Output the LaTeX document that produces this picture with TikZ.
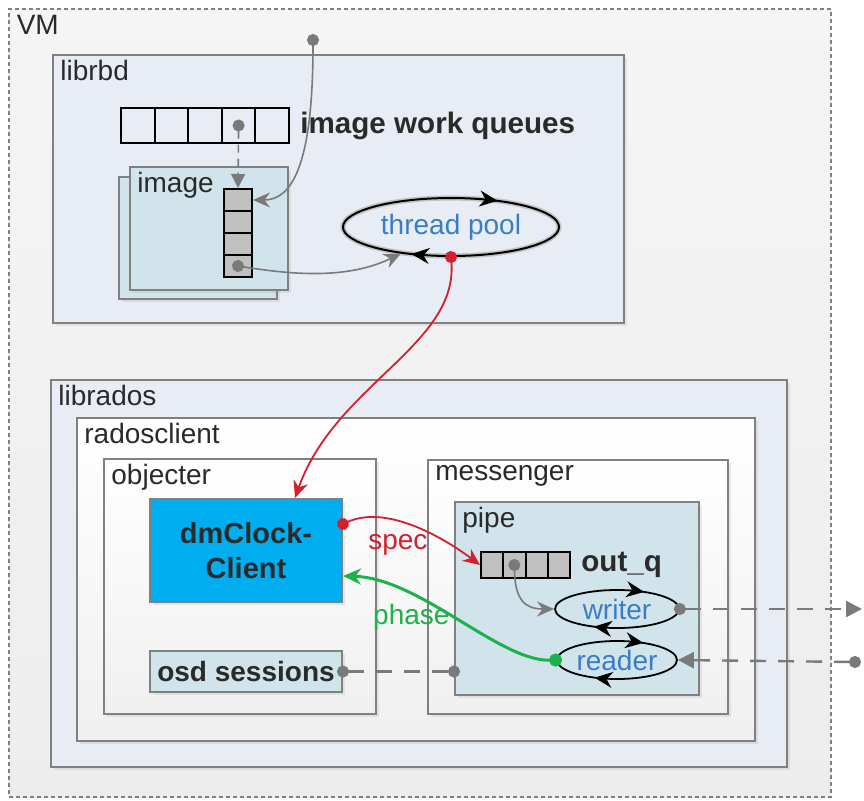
\documentclass[tikz,border=0pt]{standalone}
\usepackage{fontspec}
\setmainfont{Liberation Sans}
\usetikzlibrary{shapes.geometric, arrows.meta, positioning, calc, fit, shadows, decorations.markings}
\definecolor{libblue}{HTML}{E8ECF4}
\definecolor{paleteal}{HTML}{D1E3EB}
\definecolor{dmblue}{HTML}{00AEEF}
\definecolor{cellgray}{HTML}{C0C0C0}
\definecolor{framegray}{HTML}{808080}
\definecolor{linkgray}{HTML}{7A7A7A}
\definecolor{textblue}{HTML}{3B7DC4}
\definecolor{specred}{HTML}{D2202F}
\definecolor{phasegreen}{HTML}{1DB14B}
\definecolor{inktext}{HTML}{2A2A2A}

\begin{document}
\begin{tikzpicture}[
    x=0.5pt, y=-0.5pt,
    font=\fontsize{14}{16}\selectfont,
    frame/.style={draw=framegray, line width=1pt, inner sep=0pt},
    boxed/.style={frame, drop shadow={opacity=0.15, shadow xshift=1.5pt, shadow yshift=-1.5pt}},
    pale/.style={top color=white, bottom color=black!6},
    title/.style={anchor=north west, inner xsep=4pt, inner ysep=3pt, text=inktext},
    qcell/.style={draw=black, line width=1pt, inner sep=0pt},
    tag/.style={font=\fontsize{14.8}{16}\selectfont\bfseries, text=inktext, inner sep=0pt},
    spin/.style={ellipse, draw=black, line width=0.9pt, inner sep=0pt, text=textblue,
        postaction={decorate, decoration={markings,
            mark=at position 0.15 with {\arrowreversed{Stealth[length=9pt,width=8pt]}},
            mark=at position 0.665 with {\arrowreversed{Stealth[length=9pt,width=8pt]}}}}},
    pool/.style={spin, line width=1pt, preaction={draw=linkgray!45, line width=2.6pt}},
    link/.style={draw=linkgray, line width=0.8pt, shorten <=-3pt,
                 {Circle[length=6pt]}-{Stealth[length=8.5pt,width=7.5pt]}},
    drop/.style={link, dash pattern=on 4pt off 3pt,
                 {Circle[length=6pt]}-{Triangle[length=7pt,width=7pt]}},
    hot/.style={link, draw=specred, line width=0.9pt},
    cool/.style={link, draw=phasegreen, line width=1.5pt,
                 {Circle[length=6.5pt]}-{Stealth[length=9pt,width=8pt]}},
    wire/.style={draw=linkgray, line width=1.2pt, dash pattern=on 8pt off 6pt,
                 shorten <=-3pt, shorten >=-3pt,
                 {Circle[length=6pt]}-{Circle[length=6pt]}},
    feed/.style={wire, shorten >=0pt, {Circle[length=6pt]}-{Triangle[length=8pt,width=8pt]}},
    note/.style={inner sep=1pt}
]
\useasboundingbox (0,0) rectangle (864,800);

% VM and librbd
\node[frame, draw=framegray, line width=0.6pt, dash pattern=on 2pt off 1.5pt,
      top color=white!96!black, bottom color=black!7, fit={(9,9) (831,797)}] (vm) {};
\node[title] (vmlab) at (vm.north west) {VM};
\node[boxed, fill=libblue, fit={(53,55) (624,323)}] (librbd) {};
\node[title] (librbdlab) at (librbd.north west) {librbd};

\foreach \i in {1,...,5}
  \node[qcell, minimum width=16.8pt, minimum height=17.5pt] (wq\i) at ({121+33.6*(\i-0.5)},125.5) {};
\node[tag, right=5pt of wq5] (wqlab) {image work queues};

\node[boxed, fill=paleteal, fit={(119,177) (277,299)}] (imgback) {};
\node[boxed, fill=paleteal, fit={(130,167) (288,290)}] (img) {};
\node[title] (imglab) at (img.north west) {image};
\foreach \i in {1,...,4}
  \node[qcell, fill=cellgray, minimum width=14pt, minimum height=11pt] (vq\i) at (238,{189+22*(\i-0.5)}) {};

\node[pool, minimum width=108pt, minimum height=29pt] (pool) at (451,227) {thread pool};

% librados
\node[boxed, fill=libblue, fit={(51,380) (787,767)}] (librados) {};
\node[title] (libradoslab) at (librados.north west) {librados};
\node[boxed, pale, fit={(77,418) (755,741)}] (rados) {};
\node[title] (radoslab) at (rados.north west) {radosclient};
\node[boxed, pale, fit={(104,459) (376,714)}] (objecter) {};
\node[title] (objecterlab) at (objecter.north west) {objecter};
\node[boxed, pale, fit={(428,460) (728,714)}] (messenger) {};
\node[title] (messengerlab) at (messenger.north west) {messenger};
\node[boxed, fill=paleteal, fit={(455,502) (699,695)}] (pipe) {};
\node[title] (pipelab) at (pipe.north west) {pipe};

\node[boxed, fill=dmblue, minimum width=96pt, minimum height=51.5pt, align=center,
      font=\fontsize{14.5}{17.5}\selectfont\bfseries, text=inktext] (dm) at (246,550.5) {dmClock-\\Client};
\node[boxed, fill=paleteal, minimum width=96pt, minimum height=20.5pt,
      font=\fontsize{14}{16}\selectfont\bfseries, text=inktext] (osd) at (246,671.5) {osd sessions};

\foreach \i in {1,...,4}
  \node[qcell, fill=cellgray, minimum width=11.125pt, minimum height=13pt] (oq\i) at ({481+22.25*(\i-0.5)},565) {};
\node[tag, right=5pt of oq4] (oqlab) {out\_q};

\node[spin, minimum width=62pt, minimum height=19pt] (writer) at (617,609) {writer};
\node[spin, minimum width=60pt, minimum height=19pt] (reader) at (617,660) {reader};

% free ends
\coordinate (entry) at (313,40);
\coordinate (wireout) at (862,609);
\coordinate (wirein) at (855,662);
\coordinate (pin) at (pipe.west |- osd.east);

% flow: requests into the image queue, then to the thread pool
\draw[link] (entry) .. controls (313,170) and (290,200) .. (vq1.east);
\draw[drop] (wq4.center) -- (vq1.north);
\draw[link] (vq4.center) .. controls (300,276) and (350,278) .. (pool.208);
\draw[hot] (pool.south) .. controls (458,345) and (335,385) .. ([xshift=24.5pt]dm.north);

% dmclock tags and the pipe
\draw[hot] ([yshift=13.25pt]dm.east) .. controls (385,505) and (440,535)
    .. node[note, pos=0.4, below=5pt, text=specred] (speclab) {spec} (oq1.west);
\draw[cool] (reader.west) .. controls (500,662) and (420,578)
    .. node[note, pos=0.52, anchor=east, text=phasegreen] (phaselab) {phase} ([yshift=-12.75pt]dm.east);
\draw[link] (oq2.center) .. controls (515,600) and (525,609) .. (writer.west);
\draw[wire] (osd.east) -- (pin);
\draw[feed] (writer.east) -- (wireout);
\draw[feed] (wirein) -- (reader.east);

\end{tikzpicture}
\end{document}
